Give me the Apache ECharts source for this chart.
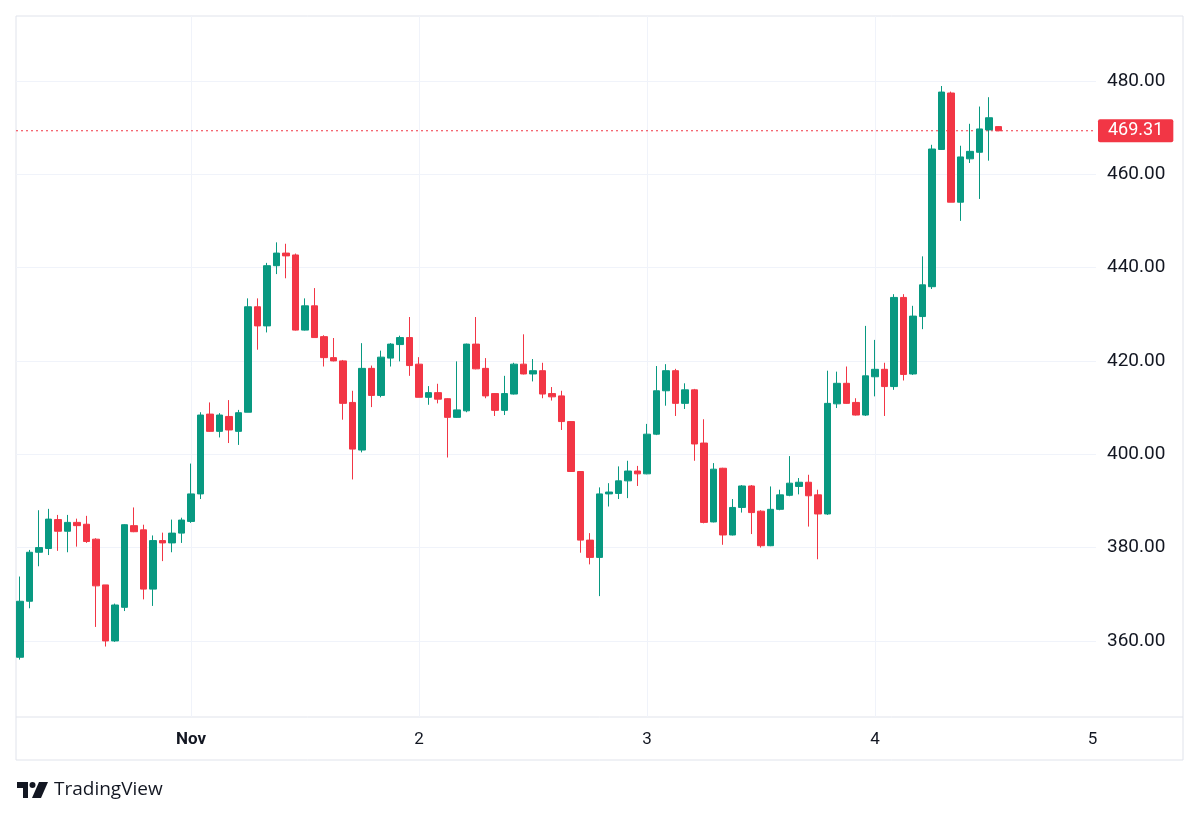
<!DOCTYPE html>
<html>
<head>
<meta charset="utf-8">
<script src="https://cdn.jsdelivr.net/npm/echarts@6/dist/echarts.min.js"></script>
<style>
  html, body { margin: 0; padding: 0; background: #fff; }
  #main { width: 1200px; height: 817px; }
</style>
</head>
<body>
<div id="main"></div>
<script>
// hourly candles, Oct 31 06:00 -> Nov 4 13:00 (hour offsets from Nov 1 00:00)
var firstHour = -18;
var opens = [356.5, 368.5, 379, 379.8, 386, 383.5, 385.4, 385, 381.8, 372, 360, 367.2, 384.7, 383.8, 371.1, 381.5, 381, 383.1,
  385.6, 391.5, 408.6, 404.9, 408.1, 404.9, 409, 431.6, 427.5, 440.4, 443.1, 442.7, 426.6, 431.8, 425.2, 420.7, 420, 411.1, 400.9, 418.4, 412.6, 420.6, 423.5, 425,
  419.3, 412.2, 413.2, 411.9, 407.9, 409.3, 423.6, 418.4, 413, 409.4, 412.9, 419.3, 417.2, 417.9, 413, 412.5, 407, 396.3, 381.6, 377.9, 391.5, 391.6, 394.3, 396.4,
  395.8, 404.3, 413.6, 417.9, 410.9, 413.8, 402.4, 385.5, 397, 382.7, 388.6, 393.2, 387.8, 380.4, 388.2, 391.2, 393.1, 394, 391.3, 387.2, 410.8, 415.2, 411.1, 408.4,
  416.6, 418.2, 414.5, 433.6, 417.2, 429.5, 435.9, 465.3, 477.4, 454, 463.3, 464.7, 469.5, 470.2];
var closes = [368.5, 379, 380, 386.1, 383.5, 385.4, 384.7, 381.3, 371.8, 360, 367.7, 384.9, 383.4, 371.1, 381.5, 381, 383.1, 385.9,
  391.5, 408.4, 404.9, 408.4, 405.2, 408.9, 431.6, 427.5, 440.4, 443.1, 442.5, 426.6, 431.8, 425, 420.7, 420, 410.9, 401.1, 418.4, 412.6, 420.8, 423.6, 425, 419,
  412.2, 413.2, 411.8, 407.9, 409.5, 423.6, 418.3, 412.5, 409.4, 413, 419.3, 417.2, 417.9, 412.9, 412.3, 407, 396.3, 381.6, 377.9, 391.5, 391.9, 394.3, 396.4, 395.8,
  404.3, 413.6, 417.9, 410.9, 413.8, 402.2, 385.4, 396.8, 382.7, 388.6, 393.2, 387.5, 380.4, 388.2, 391.3, 393.8, 394, 391.1, 387.2, 410.9, 415.2, 410.9, 408.4, 416.8,
  418.2, 414.5, 433.6, 417.1, 429.6, 436.3, 465.4, 477.6, 454, 463.7, 464.9, 469.7, 472.1, 469.31];
var lows = [356, 367, 376, 378.4, 379.3, 379, 380.2, 381, 363, 358.8, 359.8, 366.4, 383.3, 368.9, 367.5, 377.1, 379, 381,
  385.3, 390.4, 404.8, 403.6, 402.4, 402, 409, 422.4, 426.1, 438.6, 437.7, 426.5, 426.5, 425, 418.8, 419.9, 407.4, 394.6, 400.4, 410.1, 412.2, 418.8, 419.9, 416.8,
  412.2, 410.6, 410.9, 399.3, 407.8, 409, 418.2, 412, 408.2, 408.4, 412.8, 417.1, 415.6, 412, 411.5, 405.2, 396.2, 378.9, 376.4, 369.6, 388.8, 390.4, 390.6, 393.2,
  395.7, 404.1, 410.4, 408.2, 409.7, 398.6, 385.2, 385.4, 380.6, 382.6, 387.5, 382.9, 380, 380.3, 388, 391, 391.4, 384.5, 377.5, 387, 409.9, 410.8, 408.3, 408.2,
  412.4, 408.2, 413.8, 415.8, 417, 426.8, 435.4, 465.2, 454, 450, 462.4, 454.7, 462.9, 469.2];
var highs = [373.8, 379.5, 388, 388.3, 387, 387, 386.2, 386.8, 382, 372, 368, 385, 388.6, 384.9, 382.6, 383.2, 386, 386.4,
  398, 409, 411.1, 408.8, 411.6, 409.5, 433.4, 433.4, 441, 445.4, 445.1, 443, 433.4, 435.6, 425.5, 424.9, 420.2, 413.6, 423.8, 419, 422.2, 423.8, 425.4, 429.4,
  420.8, 414.6, 415.1, 412, 419.9, 423.7, 429.4, 420.6, 413.1, 416.8, 419.6, 425.7, 420.4, 419.6, 414.4, 413.6, 407.1, 396.4, 383.1, 392.9, 393.8, 397.4, 398.6, 397.5,
  406.5, 418.9, 419.3, 418.3, 415.2, 414, 407.5, 398.1, 397.1, 390.4, 393.4, 393.4, 388, 393.1, 392.4, 399.6, 394.9, 395.6, 392.4, 417.9, 417.7, 418.8, 412, 427.5,
  424.5, 419.6, 434.3, 434.3, 431.8, 442.4, 466.3, 478.9, 477.7, 466.1, 470.8, 474.5, 476.5, 470.3];
var lastPrice = 469.31;

var priceTicks = [360, 380, 400, 420, 440, 460, 480];
var dayTicks = [0, 24, 48, 72];
var dayLabelPos = [0, 24, 48, 72, 94.9]; // last day label is pulled in from the price scale edge
var dayLabels = ["Nov", "2", "3", "4", "5"];

var upColor = "#089981";
var downColor = "#F23645";
var textColor = "#131722";
var font = "Roboto, 'Noto Sans', sans-serif";
var xMin = -18.42;
var xMax = 95.26;

var candles = opens.map(function (o, i) {
  return [firstHour + i, o, closes[i], lows[i], highs[i]];
});

var myChart = echarts.init(document.getElementById("main"));
myChart.setOption({
  animation: false,
  backgroundColor: "#ffffff",
  grid: {
    left: 16,
    top: 16,
    width: 1080,
    height: 701
  },
  xAxis: {
    type: "value",
    min: xMin,
    max: xMax,
    axisLine: { show: false },
    axisTick: { show: false, customValues: dayTicks },
    splitLine: { show: true, lineStyle: { color: "#f0f3fa", width: 1 } },
    axisLabel: {
      customValues: dayLabelPos,
      margin: 14,
      color: textColor,
      fontFamily: font,
      fontSize: 17,
      formatter: function (v) {
        var i = dayLabelPos.indexOf(v);
        var t = dayLabels[i];
        return i === 0 ? "{b|" + t + "}" : t;
      },
      rich: { b: { fontWeight: "bold", fontSize: 17, fontFamily: font, color: textColor } }
    }
  },
  yAxis: {
    type: "value",
    position: "right",
    min: 343.7,
    max: 493.9,
    axisLine: { show: false },
    axisTick: { show: false, customValues: priceTicks },
    splitLine: { show: true, lineStyle: { color: "#f0f3fa", width: 1 } },
    axisLabel: {
      customValues: priceTicks,
      margin: 11,
      color: textColor,
      fontFamily: font,
      fontSize: 19,
      formatter: function (v) {
        return v.toFixed(2);
      }
    }
  },
  graphic: [
    {
      type: "rect",
      shape: { x: 16, y: 16, width: 1167, height: 744 },
      style: { fill: "none", stroke: "#e0e3eb", lineWidth: 1 },
      silent: true
    },
    {
      type: "line",
      shape: { x1: 16, y1: 717, x2: 1183, y2: 717 },
      style: { stroke: "#e0e3eb", lineWidth: 1 },
      silent: true
    },
    {
      type: "group",
      left: 17,
      top: 780,
      children: [
        { type: "polygon", shape: { points: [[0, 0], [11, 0], [11, 16], [6, 16], [6, 6], [0, 6]] }, style: { fill: textColor } },
        { type: "circle", shape: { cx: 15.5, cy: 3, r: 3 }, style: { fill: textColor } },
        { type: "polygon", shape: { points: [[22, 0], [31, 0], [24, 16], [15, 16]] }, style: { fill: textColor } },
        {
          type: "text",
          left: 37,
          top: -2,
          style: { text: "TradingView", fill: textColor, font: "19px 'Open Sans', sans-serif" }
        }
      ]
    }
  ],
  series: [
    {
      type: "candlestick",
      data: candles,
      encode: { x: 0, y: [1, 2, 3, 4] },
      barWidth: 7,
      itemStyle: {
        color: upColor,
        color0: downColor,
        borderColor: upColor,
        borderColor0: downColor,
        borderWidth: 1
      }
    },
    {
      // last price line
      type: "line",
      data: [[xMin, lastPrice], [xMax, lastPrice]],
      symbol: "none",
      silent: true,
      z: 1,
      lineStyle: { color: downColor, type: [2, 3], width: 1 },
      endLabel: {
        show: true,
        distance: 2,
        formatter: lastPrice.toFixed(2),
        color: "#ffffff",
        backgroundColor: downColor,
        padding: [3, 10, 2, 10],
        borderRadius: 2,
        fontFamily: font,
        fontSize: 18
      }
    }
  ]
});
</script>
</body>
</html>
